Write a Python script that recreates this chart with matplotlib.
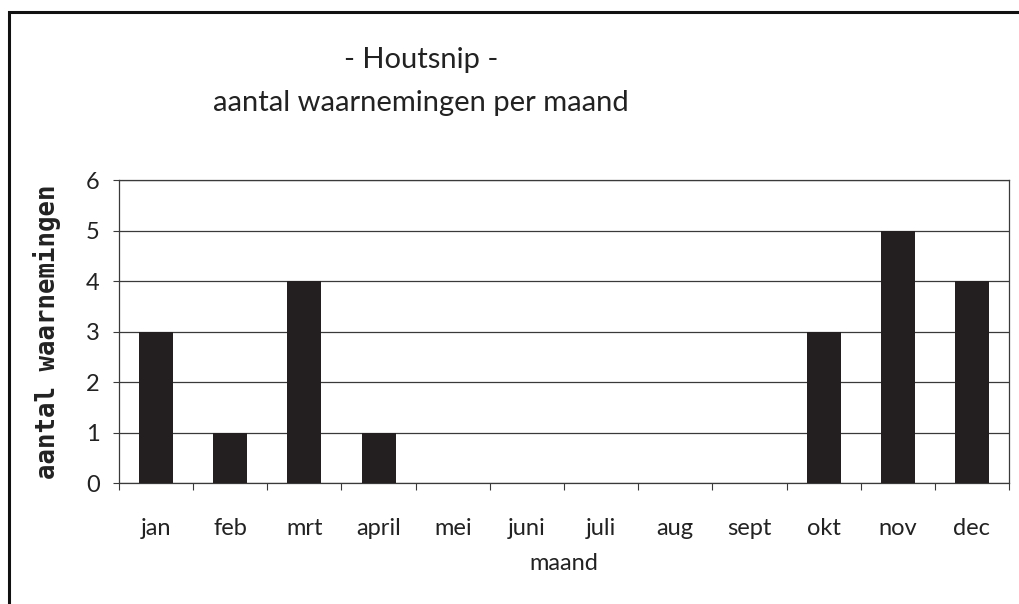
import matplotlib
matplotlib.use('Agg')
import matplotlib.pyplot as plt
import numpy as np
from matplotlib.patches import Rectangle

months = ['jan', 'feb', 'mrt', 'april', 'mei', 'juni', 'juli', 'aug', 'sept', 'okt', 'nov', 'dec']
counts = [3, 1, 4, 1, 0, 0, 0, 0, 0, 3, 5, 4]
y_ticks = [0, 1, 2, 3, 4, 5, 6]

title_1 = '- Houtsnip -'
title_2 = 'aantal waarnemingen per maand'

if __name__ == '__main__':
    fig = plt.figure(figsize=(10.19, 6.04), dpi=100)
    fig.patch.set_facecolor('white')
    m_font = 'Lato'
    grid_c = '#3a3a3a'
    txt_c = '#222222'

    # outer frame, runs off the right and bottom edge
    fig.patches.append(Rectangle((9 / 1019, -0.1), 1.2, 1.1 - 12 / 604,
                                 transform=fig.transFigure, fill=False,
                                 edgecolor='#111111', linewidth=2.2))

    ax = fig.add_axes([119 / 1019, 1 - 483 / 604, 890 / 1019, 303 / 604])
    x = np.arange(len(months))
    ax.bar(x, counts, width=0.46, color='#231f20', zorder=3)

    ax.set_xlim(-0.5, len(months) - 0.5)
    ax.set_ylim(0, 6)
    ax.set_yticks(y_ticks)
    ax.set_yticklabels([str(v) for v in y_ticks], fontsize=17, family=m_font, color=txt_c)
    ax.set_xticks(x)
    ax.set_xticklabels(months, fontsize=17, family=m_font, color=txt_c)
    ax.set_xticks(np.arange(-0.5, len(months)), minor=True)
    ax.tick_params(axis='x', which='major', length=0, pad=25)
    ax.tick_params(axis='x', which='minor', length=5, width=0.8, color=grid_c, direction='out')
    ax.tick_params(axis='y', length=4, width=0.8, color=grid_c, pad=10)

    ax.yaxis.grid(True, color=grid_c, linewidth=0.9, zorder=1)
    for s in ax.spines.values():
        s.set_color(grid_c)
        s.set_linewidth(0.9)

    ax.set_xlabel('maand', fontsize=17, family=m_font, color=txt_c, labelpad=10)
    ax.set_ylabel('aantal waarnemingen', fontsize=18.5, family='DejaVu Sans Mono',
                  fontweight='bold', color=txt_c, labelpad=18)

    fig.text(421 / 1019, 1 - 68 / 604, title_1, fontsize=21, family=m_font,
             ha='center', va='baseline', color=txt_c)
    fig.text(421 / 1019, 1 - 111 / 604, title_2, fontsize=21, family=m_font,
             ha='center', va='baseline', color=txt_c)

    plt.savefig('out.png', dpi=100)
